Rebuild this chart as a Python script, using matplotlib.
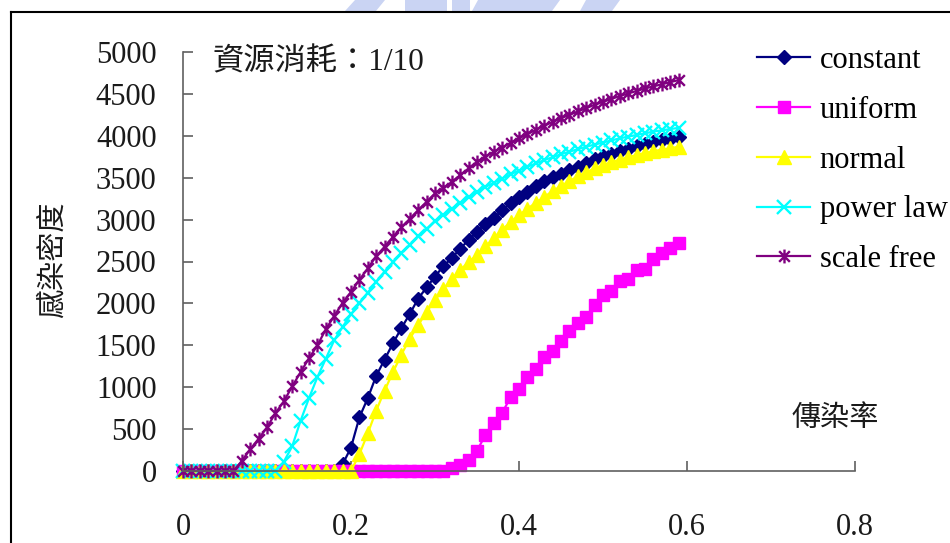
import numpy as np
import matplotlib
matplotlib.use('Agg')
import matplotlib.pyplot as plt
from matplotlib.path import Path
from matplotlib.lines import Line2D
from matplotlib.patches import Polygon

plt.rcParams['font.family'] = ['Liberation Serif', 'Noto Sans CJK TC', 'DejaVu Sans']

# ------------------------------
# data
# ------------------------------
rate = np.linspace(0, 0.59, 60)

constant = [0] * 19 + [
    80, 280, 640, 870, 1135, 1330, 1525, 1705, 1875, 2058,
    2190, 2320, 2446, 2540, 2655, 2755, 2855, 2950, 3020, 3110,
    3200, 3270, 3330, 3400, 3460, 3510, 3550, 3590, 3630, 3680,
    3720, 3755, 3785, 3815, 3845, 3880, 3905, 3925, 3945, 3965,
    3985]

uniform = [0] * 32 + [
    30, 72, 131, 242, 429, 569, 696, 879, 978, 1118,
    1217, 1364, 1432, 1555, 1674, 1769, 1841, 1980, 2100, 2147,
    2270, 2294, 2398, 2410, 2526, 2604, 2657, 2724]

normal = [0] * 21 + [
    200, 450, 720, 960, 1180, 1390, 1580, 1740, 1900, 2040,
    2170, 2290, 2400, 2490, 2580, 2680, 2780, 2880, 2970, 3050,
    3130, 3200, 3270, 3340, 3400, 3460, 3515, 3565, 3610, 3650,
    3685, 3715, 3745, 3770, 3795, 3815, 3835, 3850, 3870]

power_law = [0] * 12 + [
    110, 295, 600, 870, 1120, 1340, 1560, 1720, 1870, 2000,
    2130, 2260, 2380, 2490, 2600, 2700, 2800, 2890, 2980, 3060,
    3130, 3200, 3270, 3330, 3390, 3440, 3490, 3540, 3585, 3630,
    3670, 3710, 3745, 3780, 3810, 3840, 3870, 3895, 3920, 3945,
    3970, 3990, 4010, 4030, 4050, 4065, 4080, 4095]

scale_free = [0] * 7 + [
    120, 260, 385, 520, 690, 830, 1010, 1180, 1345, 1500,
    1690, 1850, 2008, 2137, 2282, 2418, 2565, 2676, 2795, 2907,
    3010, 3114, 3213, 3313, 3372, 3451, 3531, 3611, 3690, 3750,
    3809, 3860, 3915, 3970, 4020, 4070, 4120, 4165, 4210, 4250,
    4290, 4330, 4370, 4405, 4440, 4475, 4505, 4535, 4565, 4590,
    4615, 4640, 4665]

x_ticks = [0, 0.2, 0.4, 0.6, 0.8]
x_tick_labels = ['0', '0.2', '0.4', '0.6', '0.8']
y_ticks = list(range(0, 5001, 500))

# Excel 스타일 별표 마커 (x + 세로선)
star = Path([(-1, -1), (1, 1), (-1, 1), (1, -1), (0, -1.3), (0, 1.3)],
            [Path.MOVETO, Path.LINETO, Path.MOVETO, Path.LINETO, Path.MOVETO, Path.LINETO])

W, H = 950, 543
fig = plt.figure(figsize=(W / 100, H / 100), dpi=100)
ax = fig.add_axes([183 / W, 1 - 471 / H, (855 - 183) / W, (471 - 52) / H])

series = [
    ('constant', constant, '#000080', 'D', 7.5, {}),
    ('uniform', uniform, '#FF00FF', 's', 8, {}),
    ('normal', normal, '#FFFF00', '^', 10, {}),
    ('power law', power_law, '#00FFFF', 'x', 10, {'markeredgewidth': 1.7}),
    ('scale free', scale_free, '#800080', star, 10, {'markeredgewidth': 1.7}),
]

for name, vals, col, mk, ms, extra in series:
    ax.plot(rate, vals, color=col, lw=1.6, marker=mk, markersize=ms,
            markerfacecolor=col, markeredgecolor=col, label=name,
            clip_on=False, **extra)

ax.set_xlim(0, 0.8)
ax.set_ylim(0, 5000)
ax.set_xticks(x_ticks)
ax.set_xticklabels(x_tick_labels)
ax.set_yticks(y_ticks)

for s in ['top', 'right']:
    ax.spines[s].set_visible(False)
for s in ['left', 'bottom']:
    ax.spines[s].set_color('#606060')
    ax.spines[s].set_linewidth(1.2)

ax.tick_params(axis='both', direction='in', length=7, width=1.2, color='#606060',
               labelsize=22, labelcolor='#1a1a1a')
ax.tick_params(axis='x', pad=30)
ax.tick_params(axis='y', pad=19)

# 축 제목 / 주석
fig.text(53 / W, 1 - 260 / H, '感染密度', rotation=90, fontsize=21,
         ha='center', va='center', color='#1a1a1a')
fig.text(835 / W, 1 - 419 / H, '傳染率', fontsize=21,
         ha='center', va='center', color='#1a1a1a')
fig.text(212 / W, 1 - 63 / H, '資源消耗：1/10', fontsize=22.5,
         ha='left', va='center', color='#1a1a1a')

fig.legend(loc='upper left', bbox_to_anchor=(757 / W, 1 - 46 / H),
           frameon=False, fontsize=22, handlelength=1.75, handletextpad=0.3,
           labelspacing=0.68, borderpad=0, borderaxespad=0)

# 바깥 테두리 (잘린 프레임)
fig.add_artist(Line2D([11 / W, 11 / W], [0, 1 - 12 / H], color='black', lw=1.5,
                      transform=fig.transFigure))
fig.add_artist(Line2D([11 / W, 1], [1 - 12 / H, 1 - 12 / H], color='black', lw=1.5,
                      transform=fig.transFigure))

# 상단 워터마크 조각
wm = '#b4c2ee'
blobs = [
    [(345, 11), (355, 0), (385, 0), (376, 11)],
    [(405, 11), (405, 0), (447, 0), (447, 11)],
    [(452, 11), (452, 0), (470, 0), (470, 11)],
    [(472, 11), (478, 0), (560, 0), (552, 11)],
    [(580, 11), (586, 0), (620, 0), (612, 11)],
]
for b in blobs:
    fig.add_artist(Polygon([(px / W, 1 - py / H) for px, py in b], closed=True,
                           facecolor=wm, edgecolor='none', alpha=0.7,
                           transform=fig.transFigure))

fig.savefig('out.png', dpi=100)
